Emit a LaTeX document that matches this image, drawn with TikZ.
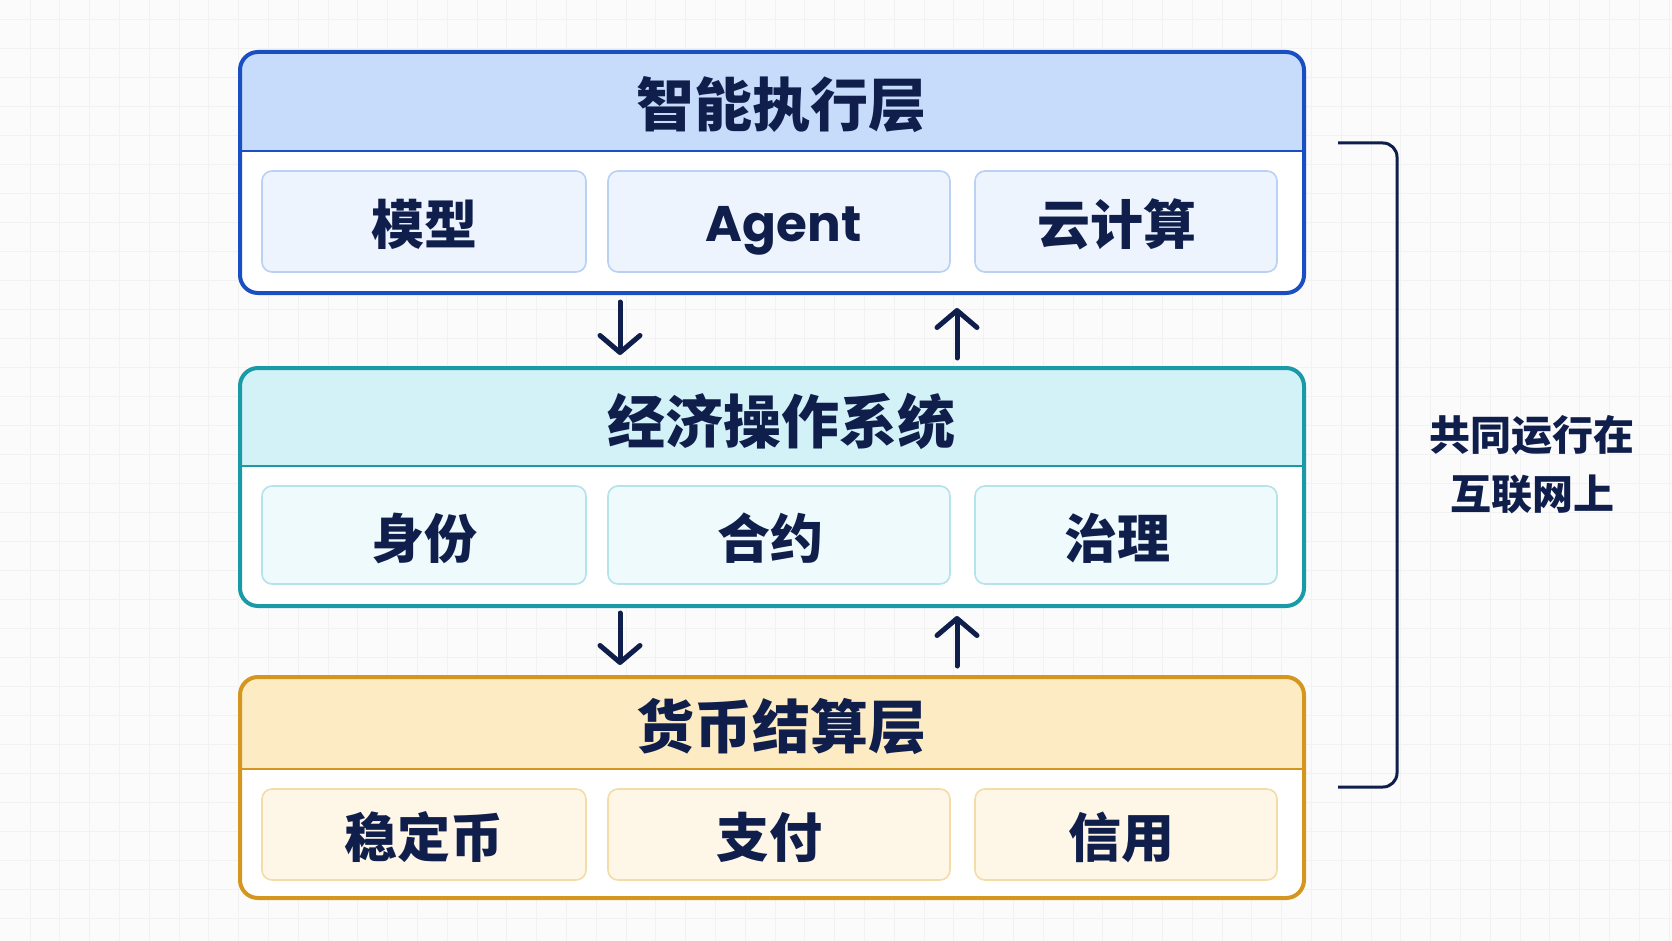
\documentclass[tikz,border=0pt]{standalone}
\usepackage{fontspec}
\newfontfamily\cjk{Noto Sans CJK SC}
\newfontfamily\pop{Poppins}
\usetikzlibrary{arrows.meta}
\newcommand\tx[3]{\hspace*{#1}\raisebox{-#2}[\height][\depth]{#3}}
\definecolor{navy}{HTML}{0F1E4B}
\definecolor{bg}{HTML}{FBFBFB}
\definecolor{gridc}{HTML}{F2F2F2}
\definecolor{bA}{HTML}{1A4FC4}
\definecolor{hA}{HTML}{C6DCFA}
\definecolor{sA}{HTML}{EDF4FE}
\definecolor{sbA}{HTML}{B9D1F3}
\definecolor{bB}{HTML}{1A9AA6}
\definecolor{hB}{HTML}{D3F2F7}
\definecolor{sB}{HTML}{EEFAFC}
\definecolor{sbB}{HTML}{B4E3EA}
\definecolor{bC}{HTML}{D4961E}
\definecolor{hC}{HTML}{FDEBC4}
\definecolor{sC}{HTML}{FEF7E8}
\definecolor{sbC}{HTML}{F4DCA8}
\begin{document}
\begin{tikzpicture}[x=1pt,y=-1pt,
  layerbox/.style={rounded corners=18pt, minimum width=1064pt, inner sep=0pt, outer sep=0pt, fill=white},
  title/.style={font=\cjk\bfseries\fontsize{58}{66}\selectfont, text=navy, inner sep=0pt},
  item/.style={font=\cjk\bfseries\fontsize{53}{60}\selectfont, text=navy, rounded corners=10pt, line width=1.6pt, inner sep=0pt, outer sep=0pt},
  flow/.style={draw=navy, line width=5pt, line cap=round, -{Straight Barb[length=17pt,width=40pt,line cap=round,line join=round]}},
  brace/.style={draw=navy, line width=3pt, rounded corners=14pt},
  note/.style={font=\cjk\bfseries\fontsize{41}{59}\selectfont, text=navy, align=center, inner sep=0pt}
]
\useasboundingbox (0,0) rectangle (1672,941);
\fill[bg] (0,0) rectangle (1672,941);
\foreach \x in {30,59.8,...,1672} \draw[gridc, line width=0.8pt] (\x,0) -- (\x,941);
\foreach \y in {19,48,...,941} \draw[gridc, line width=0.8pt] (0,\y) -- (1672,\y);

% ---------- Layer 1 ----------
\node[layerbox, minimum height=241pt] (L1) at (772,172.5) {};
\begin{scope}
  \clip[rounded corners=18pt] (L1.north west) rectangle (L1.south east);
  \fill[hA] (240,52) rectangle (1304,151);
\end{scope}
\draw[bA, line width=2pt] (240,151) -- (1304,151);
\draw[bA, line width=4pt, rounded corners=18pt] (L1.north west) rectangle (L1.south east);
\node[title] (T1) at (781,105) {智能执行层};
\node[item, fill=sA, draw=sbA, minimum width=324pt, minimum height=101pt] (A1) at (424,221.5) {\tx{0pt}{3pt}{模型}};
\node[item, fill=sA, draw=sbA, minimum width=342pt, minimum height=101pt, font=\pop\bfseries\fontsize{50}{58}\selectfont] (A2) at (779,221.5) {\tx{9pt}{9pt}{Agent}};
\node[item, fill=sA, draw=sbA, minimum width=302pt, minimum height=101pt] (A3) at (1126,221.5) {\tx{-18pt}{3pt}{云计算}};

% ---------- Layer 2 ----------
\node[layerbox, minimum height=238pt] (L2) at (772,487) {};
\begin{scope}
  \clip[rounded corners=18pt] (L2.north west) rectangle (L2.south east);
  \fill[hB] (240,368) rectangle (1304,466);
\end{scope}
\draw[bB, line width=2pt] (240,466) -- (1304,466);
\draw[bB, line width=4pt, rounded corners=18pt] (L2.north west) rectangle (L2.south east);
\node[title] (T2) at (781,421) {经济操作系统};
\node[item, fill=sB, draw=sbB, minimum width=324pt, minimum height=98pt] (B1) at (424,535) {\tx{0pt}{3pt}{身份}};
\node[item, fill=sB, draw=sbB, minimum width=342pt, minimum height=98pt] (B2) at (779,535) {\tx{-18pt}{3pt}{合约}};
\node[item, fill=sB, draw=sbB, minimum width=302pt, minimum height=98pt] (B3) at (1126,535) {\tx{-18pt}{3pt}{治理}};

% ---------- Layer 3 ----------
\node[layerbox, minimum height=221pt] (L3) at (772,787.5) {};
\begin{scope}
  \clip[rounded corners=18pt] (L3.north west) rectangle (L3.south east);
  \fill[hC] (240,677) rectangle (1304,769);
\end{scope}
\draw[bC, line width=2pt] (240,769) -- (1304,769);
\draw[bC, line width=4pt, rounded corners=18pt] (L3.north west) rectangle (L3.south east);
\node[title] (T3) at (781,727) {货币结算层};
\node[item, fill=sC, draw=sbC, minimum width=324pt, minimum height=91pt] (C1) at (424,834.5) {\tx{0pt}{3pt}{稳定币}};
\node[item, fill=sC, draw=sbC, minimum width=342pt, minimum height=91pt] (C2) at (779,834.5) {\tx{-20pt}{3pt}{支付}};
\node[item, fill=sC, draw=sbC, minimum width=302pt, minimum height=91pt] (C3) at (1126,834.5) {\tx{-10pt}{3pt}{信用}};

% ---------- arrows ----------
\coordinate (ad) at (620,0);
\coordinate (au) at (957,0);
\draw[flow, shorten <=9pt, shorten >=13pt] (L1.south -| ad) -- (L2.north -| ad);
\draw[flow, shorten <=10pt, shorten >=15pt] (L2.north -| au) -- (L1.south -| au);
\draw[flow, shorten <=7pt, shorten >=12pt] (L2.south -| ad) -- (L3.north -| ad);
\draw[flow, shorten <=11pt, shorten >=10pt] (L3.north -| au) -- (L2.south -| au);

% ---------- bracket ----------
\coordinate (b1) at (1338,143);
\coordinate (b2) at (1397,143);
\coordinate (b3) at (1397,787);
\coordinate (b4) at (1338,787);
\draw[brace] (b1) -- (b2) -- (b3) -- (b4);
\node[note] (N) at (1532,465) {共同运行在\\互联网上};
\end{tikzpicture}
\end{document}
